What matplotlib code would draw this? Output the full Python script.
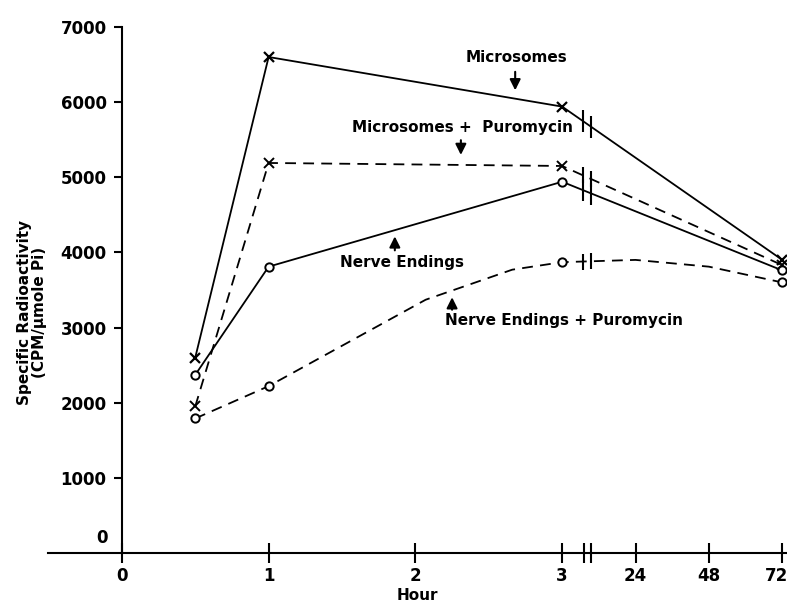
import numpy as np
import matplotlib
matplotlib.use("Agg")
import matplotlib.pyplot as plt
import matplotlib.transforms as mtransforms

# Data (hours, specific radioactivity)
hours = [0.5, 1, 3, 72]
microsomes = [2600, 6600, 5940, 3900]
microsomes_puro = [1950, 5190, 5150, 3830]
nerve_endings = [2370, 3810, 4940, 3760]
nerve_endings_puro = [1790, 2220, 3870, 3600]

# hand drawn curve of the nerve endings + puromycin line
nep_curve_hours = [0.5, 1, 2.07, 2.66, 3, 24, 48, 72]
nep_curve_vals = [1790, 2220, 3370, 3770, 3870, 3900, 3810, 3600]

xtick_hours = [0, 1, 2, 3, 24, 48, 72]
yticks = [1000, 2000, 3000, 4000, 5000, 6000, 7000]


def pos(h):
    # broken axis: 0-3 h linear, then 24/48/72 h at half-unit steps
    h = np.asarray(h, dtype=float)
    return np.where(h <= 3, h, 3.5 + (h - 24) / 48.0)


plt.rcParams["font.family"] = ["DejaVu Sans"]
plt.rcParams["font.weight"] = "bold"

fig = plt.figure(figsize=(7.87, 6.07), dpi=100)
ax = fig.add_axes([0.0616, 0.089, 0.938, 0.8666])
ax.set_xlim(-0.5, 4.53)
ax.set_ylim(0, 7000)

lw = 1.3
dash = (6, 4)

# lines
ax.plot(pos(hours), microsomes, color="k", lw=lw, marker="x", ms=7, mew=1.6)
ax.plot(pos(hours), microsomes_puro, color="k", lw=lw, ls=(0, dash),
        marker="x", ms=7, mew=1.4)
ax.plot(pos(hours), nerve_endings, color="k", lw=lw, marker="o", ms=6,
        mfc="white", mew=1.4)
ax.plot(pos(nep_curve_hours), nep_curve_vals, color="k", lw=lw, ls=(0, dash))
ax.plot(pos(hours), nerve_endings_puro, ls="none", marker="o", ms=6,
        mfc="white", mec="k", mew=1.4)

# break marks on the lines (taller on solid lines, "H" on dashed ones)
brk = np.array([3.14, 3.20])
for xs, ys, size in [(pos(hours), microsomes, 16),
                     (pos(hours), microsomes_puro, 12),
                     (pos(hours), nerve_endings, 16),
                     (pos(nep_curve_hours), nep_curve_vals, 12)]:
    ax.plot(brk, np.interp(brk, xs, ys), ls="none", marker="|", ms=size,
            mew=1.5, color="k")

# axes styling
for s in ["top", "right"]:
    ax.spines[s].set_visible(False)
ax.spines["left"].set_position(("data", 0))
ax.spines["left"].set_bounds(0, 7000)
ax.spines["left"].set_linewidth(1.5)
ax.spines["bottom"].set_linewidth(1.5)

ax.set_xticks(pos(xtick_hours))
ax.set_xticklabels([str(h) for h in xtick_hours], fontsize=12, fontweight="bold")
ax.set_xticks([3.15, 3.20], minor=True)
ax.tick_params(axis="x", which="both", direction="inout", length=14, width=1.5,
               pad=3)
# keep the last label ("72") inside the figure
last = ax.get_xticklabels()[-1]
last.set_ha("right")
last.set_transform(last.get_transform() +
                   mtransforms.ScaledTranslation(4 / 72, 0, fig.dpi_scale_trans))

ax.set_yticks(yticks)
ax.set_yticklabels([str(v) for v in yticks], fontsize=12, fontweight="bold")
ax.tick_params(axis="y", direction="out", length=6, width=1.5, pad=5)
ax.annotate("0", xy=(0, 0), xytext=(-10, 11), textcoords="offset points",
            ha="right", va="center", fontsize=12, fontweight="bold")

ax.set_xlabel("Hour", fontsize=11, fontweight="bold", labelpad=2)
ax.text(-0.61, 3200, "Specific Radioactivity\n(CPM/\u00b5mole Pi)", rotation=90,
        ha="center", va="center", fontsize=11, fontweight="bold",
        linespacing=1.0)

# labels with arrows
arrow = dict(arrowstyle="-|>", color="k", lw=1.5, mutation_scale=16)
ax.text(2.69, 6590, "Microsomes", ha="center", va="center", fontsize=11)
ax.annotate("", xy=(2.68, 6120), xytext=(2.68, 6440), arrowprops=arrow)
ax.text(2.32, 5660, "Microsomes +  Puromycin", ha="center", va="center",
        fontsize=11)
ax.annotate("", xy=(2.31, 5260), xytext=(2.31, 5530), arrowprops=arrow)
ax.text(1.91, 3860, "Nerve Endings", ha="center", va="center", fontsize=11)
ax.annotate("", xy=(1.86, 4250), xytext=(1.86, 3990), arrowprops=arrow)
ax.text(3.01, 3100, "Nerve Endings + Puromycin", ha="center", va="center",
        fontsize=11)
ax.annotate("", xy=(2.25, 3440), xytext=(2.25, 3200), arrowprops=arrow)

fig.savefig("out.png", dpi=100)
